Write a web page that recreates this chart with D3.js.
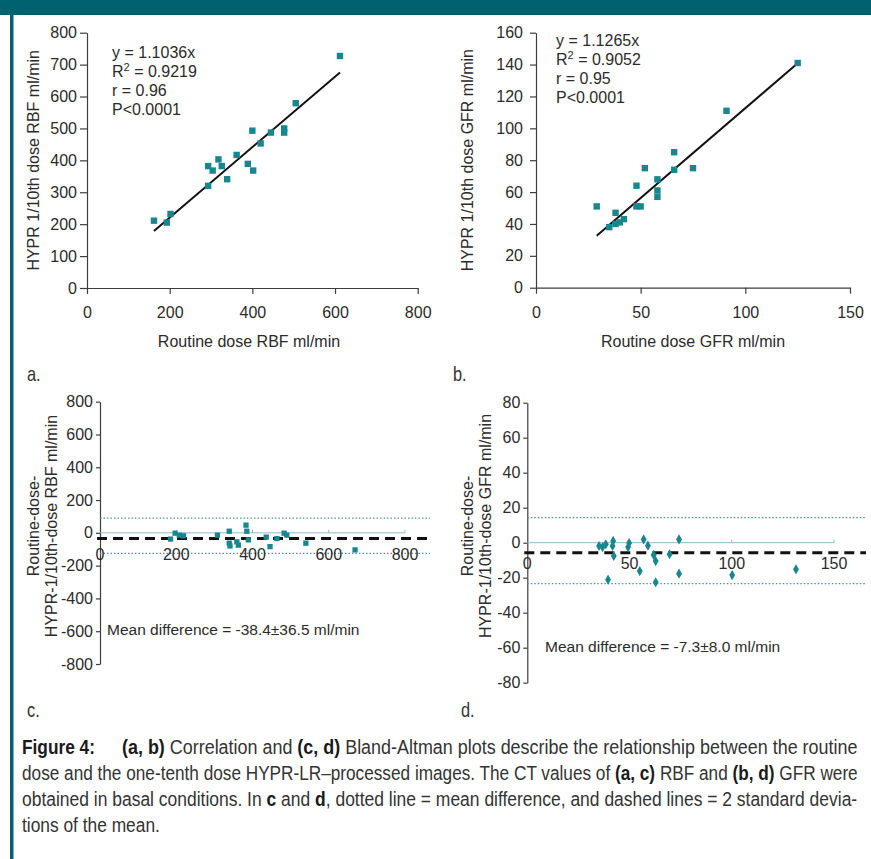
<!DOCTYPE html>
<html>
<head>
<meta charset="utf-8">
<script src="https://cdn.jsdelivr.net/npm/d3@7"></script>
<style>
  body { margin: 0; background: #fff; }
  svg text { font-family: "Liberation Sans", Arial, sans-serif; fill: #2b2b2b; }
</style>
</head>
<body>
<div id="fig"></div>
<script>
// ---- data ----
// (a) RBF correlation
var rbfRoutine = [162, 193, 202, 293, 293, 304, 318, 326, 339, 362, 389, 402, 400, 420, 445, 477, 477, 505, 612];
var rbfHypr    = [211, 205, 232, 320, 382, 368, 403, 382, 341, 417, 389, 368, 493, 453, 487, 500, 487, 579, 727];
var rbfSlope = 1.1036;
var rbfStats = ["y = 1.1036x", "R2 = 0.9219", "r = 0.96", "P<0.0001"];

// (b) GFR correlation
var gfrRoutine = [29, 35, 38, 38, 40, 42, 48, 48, 50, 52, 58, 58, 58, 66, 66, 75, 91, 125];
var gfrHypr    = [51, 38, 40, 47, 41, 43, 64, 51, 51, 75, 57, 61, 68, 85, 74, 75, 111, 141];
var gfrSlope = 1.1265;
var gfrStats = ["y = 1.1265x", "R2 = 0.9052", "r = 0.95", "P<0.0001"];

// (c) RBF Bland-Altman
var baRbfX    = [185, 197, 208, 219, 308, 339, 339, 341, 359, 363, 383, 385, 389, 436, 446, 464, 483, 490, 540, 669];
var baRbfDiff = [-38, -2, -14, -18, -14, 10, -63, -80, -55, -75, 47, 10, -43, -26, -84, -35, -2, -14, -63, -104];
var baRbfLimits = [90, -125];   // dotted lines
var baRbfMean = -35;            // dashed line
var baRbfText = "Mean difference = -38.4\u00b136.5 ml/min";

// (d) GFR Bland-Altman
var baGfrX    = [35.1, 36.8, 38.4, 42, 41.7, 42.3, 39.5, 49.3, 49.8, 55, 56.9, 59, 61.8, 62.8, 62.8, 69.6, 74.2, 74.2, 100.2, 131.4];
var baGfrDiff = [-1.9, -2.5, -0.9, 1, -1.9, -7.6, -21.1, -2.5, -0.2, -16.2, 1.9, -1.7, -7, -10.5, -22.6, -6.6, 1.9, -17.7, -18.5, -15.2];
var baGfrLimits = [14.3, -23.4];
var baGfrMean = -5.7;
var baGfrText = "Mean difference = -7.3\u00b18.0 ml/min";

// tick values
var rbfTicks = [0, 200, 400, 600, 800];
var rbfYTicks = d3.range(0, 801, 100);
var gfrTicks = [0, 50, 100, 150];
var gfrYTicks = d3.range(0, 161, 20);
var baRbfYTicks = d3.range(-800, 801, 200);
var baGfrYTicks = d3.range(-80, 81, 20);

var teal = "#17878d";
var axisCol = "#3d3d3d";
var plain = d => String(d);   // hyphen-minus like the original

var svg = d3.select("#fig").append("svg")
  .attr("width", 871)
  .attr("height", 859);

// journal frame: header band and left rule
svg.append("rect").attr("x", 0).attr("y", 0).attr("width", 871).attr("height", 15).attr("fill", "#00626e");
svg.append("rect").attr("x", 10).attr("y", 0).attr("width", 3.5).attr("height", 859).attr("fill", "#00626e");

function styleAxis(g) {
  g.select(".domain").attr("stroke", axisCol).attr("stroke-width", 1.2);
  g.selectAll(".tick line").attr("stroke", axisCol).attr("stroke-width", 1.2);
  g.selectAll(".tick text").attr("font-size", 16).attr("fill", "#2b2b2b").attr("font-family", "Liberation Sans, Arial, sans-serif");
}

// correlation scatter plot
function scatter(o) {
  var x = d3.scaleLinear().domain(o.xDom).range(o.xRange);
  var y = d3.scaleLinear().domain(o.yDom).range(o.yRange);

  var gx = svg.append("g")
    .attr("transform", `translate(0, ${o.yRange[0]})`)
    .call(d3.axisBottom(x).tickValues(o.xTicks).tickFormat(plain).tickSize(6).tickSizeOuter(0).tickPadding(13));
  styleAxis(gx);
  var gy = svg.append("g")
    .attr("transform", `translate(${o.xRange[0]}, 0)`)
    .call(d3.axisLeft(y).tickValues(o.yTicks).tickFormat(plain).tickSize(o.yTickSize).tickSizeOuter(0).tickPadding(o.yPad));
  styleAxis(gy);

  // regression line through origin, drawn over the data range
  var ext = d3.extent(o.xs);
  svg.append("line")
    .attr("x1", x(ext[0])).attr("y1", y(ext[0] * o.slope))
    .attr("x2", x(ext[1])).attr("y2", y(ext[1] * o.slope))
    .attr("stroke", "#111").attr("stroke-width", 2);

  svg.append("g").selectAll("rect")
    .data(o.xs)
    .enter()
    .append("rect")
    .attr("x", (d, i) => x(d) - 3.2)
    .attr("y", (d, i) => y(o.ys[i]) - 3.2)
    .attr("width", 6.4)
    .attr("height", 6.4)
    .attr("fill", teal);

  // equation block
  o.stats.forEach(function(s, i) {
    var t = svg.append("text")
      .attr("x", o.statX)
      .attr("y", o.statY + i * 19)
      .attr("font-size", 16);
    if (s.indexOf("R2") === 0) {
      t.append("tspan").text("R");
      t.append("tspan").attr("dy", -6).attr("font-size", 11).text("2");
      t.append("tspan").attr("dy", 6).text(s.slice(2));
    } else {
      t.text(s);
    }
  });

  svg.append("text")
    .attr("transform", `translate(${o.yTitleX}, ${(o.yRange[0] + o.yRange[1]) / 2}) rotate(-90)`)
    .attr("text-anchor", "middle")
    .attr("font-size", 16)
    .text(o.yTitle);
  svg.append("text")
    .attr("x", o.xTitleX)
    .attr("y", 347)
    .attr("text-anchor", "middle")
    .attr("font-size", 16)
    .text(o.xTitle);
}

scatter({
  xDom: [0, 800], xRange: [87, 417.7], yDom: [0, 800], yRange: [288, 32.7],
  xTicks: rbfTicks, yTicks: rbfYTicks, yTickSize: 7, yPad: 3,
  xs: rbfRoutine, ys: rbfHypr, slope: rbfSlope, stats: rbfStats,
  statX: 112, statY: 58,
  yTitle: "HYPR 1/10th dose RBF ml/min", yTitleX: 39,
  xTitle: "Routine dose RBF ml/min", xTitleX: 249
});

scatter({
  xDom: [0, 150], xRange: [536, 850], yDom: [0, 160], yRange: [287.7, 32.7],
  xTicks: gfrTicks, yTicks: gfrYTicks, yTickSize: 6, yPad: 7,
  xs: gfrRoutine, ys: gfrHypr, slope: gfrSlope, stats: gfrStats,
  statX: 556, statY: 46,
  yTitle: "HYPR 1/10th dose GFR ml/min", yTitleX: 473,
  xTitle: "Routine dose GFR ml/min", xTitleX: 693
});

// Bland-Altman plot
function blandAltman(o) {
  var x = d3.scaleLinear().domain(o.xDom).range(o.xRange);
  var y = d3.scaleLinear().domain(o.yDom).range(o.yRange);

  var gy = svg.append("g")
    .attr("transform", `translate(${o.xRange[0]}, 0)`)
    .call(d3.axisLeft(y).tickValues(o.yTicks).tickFormat(plain).tickSize(4).tickSizeOuter(0).tickPadding(3));
  styleAxis(gy);

  // zero line with small ticks
  svg.append("line")
    .attr("x1", x(o.xDom[0])).attr("x2", x(o.xDom[1]))
    .attr("y1", y(0)).attr("y2", y(0))
    .attr("stroke", "#8fb8cc").attr("stroke-width", 1);
  svg.append("g").selectAll("line")
    .data(o.xTicks.slice(1))
    .enter()
    .append("line")
    .attr("x1", d => x(d)).attr("x2", d => x(d))
    .attr("y1", y(0)).attr("y2", y(0) - 3)
    .attr("stroke", "#8fb8cc");

  // limits (dotted) and mean (dashed)
  svg.append("g").selectAll("line")
    .data(o.limits)
    .enter()
    .append("line")
    .attr("x1", o.xRange[0]).attr("x2", o.lineEnd)
    .attr("y1", d => y(d)).attr("y2", d => y(d))
    .attr("stroke", "#4d8fae").attr("stroke-width", 1.2)
    .attr("stroke-dasharray", "1.5,2");

  svg.append("g").selectAll("text")
    .data(o.xTicks)
    .enter()
    .append("text")
    .attr("x", d => x(d))
    .attr("y", o.xLabelY)
    .attr("text-anchor", "middle")
    .attr("font-size", 16)
    .attr("fill", "#3a3a3a")
    .text(d => d);

  svg.append("line")
    .attr("x1", o.xRange[0] - 3).attr("x2", o.lineEnd)
    .attr("y1", y(o.mean)).attr("y2", y(o.mean))
    .attr("stroke", "#111").attr("stroke-width", 3)
    .attr("stroke-dasharray", "10,6");

  var sym = d3.symbol().type(o.diamond ? d3.symbolDiamond : d3.symbolSquare).size(o.diamond ? 30 : 28);
  svg.append("g").selectAll("path")
    .data(o.xs)
    .enter()
    .append("path")
    .attr("d", sym)
    .attr("transform", (d, i) => `translate(${x(d)}, ${y(o.ys[i])})`)
    .attr("fill", teal);

  svg.append("text")
    .attr("x", o.meanTextX)
    .attr("y", o.meanTextY)
    .attr("font-size", 15.5)
    .text(o.meanText);

  var tt = svg.append("text")
    .attr("transform", `translate(${o.yTitleX}, 526) rotate(-90)`)
    .attr("text-anchor", "middle")
    .attr("font-size", 16)
    .attr("fill", "#3a3a3a");
  tt.append("tspan").attr("x", 0).attr("dy", 0).text("Routine-dose-");
  tt.append("tspan").attr("x", 0).attr("dy", 18).text(o.yTitle2);
}

blandAltman({
  xDom: [0, 800], xRange: [100, 405], yDom: [-800, 800], yRange: [664, 401.7],
  yTicks: baRbfYTicks, xTicks: rbfTicks, xLabelY: 560, lineEnd: 430,
  xs: baRbfX, ys: baRbfDiff, limits: baRbfLimits, mean: baRbfMean, diamond: false,
  meanText: baRbfText, meanTextX: 107, meanTextY: 635,
  yTitleX: 39, yTitle2: "HYPR-1/10th-dose RBF ml/min"
});

blandAltman({
  xDom: [0, 150], xRange: [527.3, 834], yDom: [-80, 80], yRange: [682.7, 402.7],
  yTicks: baGfrYTicks, xTicks: gfrTicks, xLabelY: 569, lineEnd: 866,
  xs: baGfrX, ys: baGfrDiff, limits: baGfrLimits, mean: baGfrMean, diamond: true,
  meanText: baGfrText, meanTextX: 545, meanTextY: 652,
  yTitleX: 473, yTitle2: "HYPR-1/10th-dose GFR ml/min"
});

// condensed text: draw in Liberation Sans, then squeeze horizontally to the width seen in the figure
function squeezed(x, y, size, width, parts, boldAll) {
  var g = svg.append("g");
  var t = g.append("text").attr("x", 0).attr("y", 0).attr("font-size", size);
  parts.forEach(function(p) {
    var s = t.append("tspan").text(p[0]);
    if (p[1] || boldAll) s.attr("font-weight", "bold").style("fill", "#1a1a1a");
    else s.style("fill", "#333");
  });
  var len = t.node().getComputedTextLength();
  var sx = width ? width / len : 0.82;
  g.attr("transform", `translate(${x}, ${y}) scale(${sx}, 1)`);
}

// panel letters
squeezed(27, 381, 20, 0, [["a."]]);
squeezed(453, 381, 20, 0, [["b."]]);
squeezed(27, 717, 20, 0, [["c."]]);
squeezed(461, 717, 20, 0, [["d."]]);

// caption
squeezed(22, 754, 21, 73, [["Figure 4:"]], true);
squeezed(122, 754, 21, 736, [["(a, b)", 1], [" Correlation and "], ["(c, d)", 1], [" Bland-Altman plots describe the relationship between the routine"]]);
squeezed(22, 780, 21, 836, [["dose and the one-tenth dose HYPR-LR\u2013processed images. The CT values of "], ["(a, c)", 1], [" RBF and "], ["(b, d)", 1], [" GFR were"]]);
squeezed(22, 806, 21, 836, [["obtained in basal conditions. In "], ["c", 1], [" and "], ["d", 1], [", dotted line = mean difference, and dashed lines = 2 standard devia-"]]);
squeezed(22, 832, 21, 138, [["tions of the mean."]]);
</script>
</body>
</html>
